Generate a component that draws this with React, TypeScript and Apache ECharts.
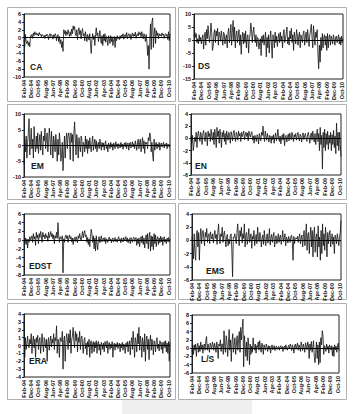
import React, { useEffect, useRef } from "react";
import * as echarts from "echarts";

const MONTHS = ["Jan", "Feb", "Mar", "Apr", "May", "Jun", "Jul", "Aug", "Sep", "Oct", "Nov", "Dec"];
const N_POINTS = 203; // Feb-94 .. Dec-10
const categories: string[] = Array.from({ length: N_POINTS }, (_, i) => {
  const k = i + 1;
  const y = (94 + Math.floor(k / 12)) % 100;
  return `${MONTHS[k % 12]}-${String(y).padStart(2, "0")}`;
});

const CA = [
  -0.5, -2.2, 0.8, -1.0, -1.5, -0.8, -2.0, -1.2, -2.3, 0.5,
  0.3, 0.8, -0.2, 1.2, 0.5, 1.5, 0.8, 1.2, 0.6, 1.0,
  0.4, 1.3, 0.7, 0.9, 0.2, 0.8, 0.5, 0.3, 0.6, -0.2,
  0.7, 0.4, 0.9, 0.5, -0.5, 0.6, 1.0, 0.3, 0.8, 0.5,
  -0.4, 0.7, 0.2, 1.0, 0.6, -0.8, 0.4, 0.8, -1.0, 0.3,
  -1.5, -0.5, -2.5, -1.0, -3.5, 2.0, 1.0, 1.8, 0.5, 1.5,
  0.8, 2.0, 1.0, 0.3, 1.5, 0.5, 2.2, 1.0, 3.0, 2.0,
  2.8, 1.0, 0.5, 2.0, -0.5, 1.5, 2.5, 0.8, 1.8, -0.3,
  1.5, 2.3, 0.5, 1.0, -0.8, 1.5, 0.3, -1.0, 0.8, 0.2,
  -0.6, 1.0, -1.5, -4.0, -0.5, 1.0, -0.5, 0.5, -2.0, 0.8,
  2.5, 0.5, 1.2, -1.0, 0.3, 1.8, -0.5, -1.5, 0.5, -2.0,
  0.8, -0.8, 1.0, -1.2, 0.3, -0.5, -2.0, 0.5, -0.3, -1.5,
  0.5, -1.0, 0.2, -2.0, -0.5, 0.3, -2.5, 0.0, -0.8, 0.5,
  -0.3, 0.2, -0.5, 0.5, -0.2, 0.6, 0.3, 1.0, -0.4, 0.5,
  0.8, 0.2, 1.3, -0.3, 0.6, 1.0, 0.3, 0.8, -0.5, 0.6,
  1.2, 0.3, 0.9, 0.4, 1.4, -0.2, 0.7, 1.0, 0.4, 1.5,
  0.8, 1.2, 0.2, 1.5, 0.5, -0.3, 1.0, 0.3, -1.0, 0.8,
  -1.0, -4.5, -2.0, -8.0, -1.0, 3.5, -3.0, 4.0, 5.0, -2.5,
  1.0, 2.5, -1.5, 1.8, 0.5, 1.2, -0.3, 1.0, 0.5, 0.8,
  0.3, 1.2, 0.6, 0.9, -0.2, 0.7, 1.0, 0.4, 0.8, -0.5,
  1.5, -0.8, 1.0,
];

const DS = [
  1.5, 3.0, 1.0, 2.5, -1.0, 0.5, -1.5, 2.0, -0.5, 1.0,
  -1.5, 0.5, 2.0, -3.5, 1.0, 3.0, -2.0, 4.0, 0.5, 5.5,
  2.0, -1.0, 2.0, 6.5, 3.0, -4.0, -2.5, 2.5, 4.0, -1.0,
  3.5, 1.5, 4.5, -2.0, 3.0, 2.0, -0.5, 3.5, 1.0, -2.0,
  3.0, 2.5, -1.5, 1.0, 2.0, -3.0, 2.5, 4.5, -1.0, 1.5,
  6.0, -2.0, 3.0, 7.5, -0.5, 5.0, -3.0, 2.0, 3.5, -1.0,
  1.5, 4.0, -2.0, 2.0, -5.5, 1.0, 3.0, -1.5, 2.5, -1.0,
  3.5, -3.0, 1.0, 2.0, -5.0, 0.5, 2.0, 6.5, 4.0, -1.0,
  3.0, 5.0, 1.0, -1.0, 2.0, -2.5, 1.0, 0.5, -3.5, -1.0,
  0.5, -6.0, 1.5, -1.0, 2.0, -2.0, 0.5, 3.0, -6.5, 1.0,
  -3.0, 2.0, -5.0, 0.5, 3.5, -1.5, -7.0, 2.0, 1.0, -3.0,
  3.0, -1.0, 1.5, -2.5, 0.5, 2.5, -1.0, 3.0, -0.5, 1.5,
  -3.0, 2.0, 4.0, -1.0, 0.5, 2.5, 5.0, -1.5, 1.0, -2.0,
  3.5, 0.5, 4.5, -1.0, 2.0, -4.0, 3.0, 1.0, -1.5, 4.0,
  2.0, -2.0, 1.5, 3.0, -3.0, 2.0, 0.5, -1.0, 2.5, 3.5,
  -2.0, 1.0, 3.0, -1.0, 4.0, 1.0, -2.5, 2.0, 3.5, 6.0,
  1.0, -3.0, 5.5, 2.0, -2.0, 3.0, 1.0, 4.0, -5.0, -11.0,
  -2.0, -8.5, 1.0, -4.0, 2.5, -3.0, 1.0, 2.0, -2.0, 1.5,
  -4.0, 2.5, -3.0, 1.0, 2.0, -2.0, 1.5, 0.5, -1.5, 2.0,
  0.5, -2.0, 1.0, 1.5, -1.0, 0.5, 2.0, -1.5, 1.0, -2.0,
  1.5, -1.0, 0.5,
];

const EM = [
  -6.0, 2.0, -2.0, 3.0, -4.0, 1.0, 4.0, 8.5, -3.0, 1.0,
  5.5, -1.0, 2.0, -4.0, 6.0, 0.5, -2.0, 3.0, -1.0, 4.0,
  -2.5, 1.0, 3.5, -1.5, 4.5, 0.0, -3.0, 3.0, 1.5, 5.5,
  -1.0, 2.0, 4.0, -2.0, 1.0, 5.5, 2.0, -3.0, 4.5, 1.0,
  -4.0, 3.0, 1.0, -2.0, 3.5, 0.5, -5.0, 2.0, -3.0, 4.0,
  1.0, -5.0, -3.0, 1.0, -8.0, -2.0, 3.0, -4.0, 1.5, 4.0,
  -1.0, 3.0, 4.0, 2.0, -4.5, 4.0, 1.0, 3.5, -5.0, 4.0,
  7.5, 2.0, -3.0, 3.5, 1.0, -4.0, 2.5, 0.5, -2.0, 3.0,
  2.0, -3.5, 1.0, 0.5, -2.0, 3.0, -1.0, 2.0, -2.5, 1.5,
  -1.0, 2.5, 0.0, -2.0, 1.0, 3.0, -1.5, 0.5, 2.0, -1.0,
  1.5, -2.0, 0.5, 1.0, -1.0, 2.0, 0.5, -1.5, 1.0, -0.5,
  0.8, -1.5, 0.5, 1.5, -1.0, 0.3, -2.0, 0.8, 0.2, -1.0,
  1.0, -0.5, 0.5, -1.5, 0.8, 0.2, -1.0, 1.2, -0.3, 0.5,
  -1.0, 0.6, 0.2, -0.8, 1.0, -0.4, 0.5, -1.2, 0.3, 0.8,
  -0.5, 1.0, -1.0, 0.4, 0.8, -1.5, 0.5, 1.0, -0.8, 0.3,
  1.2, -0.5, 0.6, -1.0, 1.5, 0.2, -1.5, 0.8, 2.0, -1.0,
  1.0, 2.0, -2.0, 0.5, 2.5, -1.0, 1.5, -2.5, 1.0, 0.5,
  1.0, -1.0, 2.5, 1.5, 4.0, 3.0, -2.0, 1.0, -3.0, -5.0,
  2.0, -1.5, 0.5, 1.0, -1.0, 0.5, -0.5, 1.0, -1.5, 0.3,
  0.8, -0.5, 0.3, 1.0, -0.8, 0.5, -0.2, 0.8, -1.0, 0.5,
  0.3, -0.6, 0.4,
];

const EN = [
  0.3, -0.8, 0.5, -2.0, -1.0, 0.2, -0.5, 1.0, -1.5, 0.5,
  1.2, 0.3, -0.5, 1.0, 0.5, -1.0, 0.8, 1.3, 0.2, -0.5,
  1.0, 0.5, -1.2, 1.2, 0.3, 0.8, -0.5, 1.5, 0.4, -0.3,
  1.0, -1.0, 1.5, 0.5, -1.5, 1.8, 0.3, 1.2, -0.8, 1.5,
  0.5, -1.5, 1.0, 0.2, 1.3, -0.5, 0.8, -1.0, 1.2, 0.4,
  -0.3, 1.0, 0.3, -0.8, 1.1, 0.5, -0.4, 0.9, 1.3, 0.2,
  -0.5, 1.0, 0.6, -0.3, 1.2, 0.4, 0.8, -0.5, 1.0, 0.3,
  0.7, 1.2, -0.2, 0.5, 1.0, 0.3, 0.9, -0.4, 1.2, 0.6,
  0.2, 0.9, 1.1, -0.3, 0.4, -0.8, 0.5, 0.1, -0.5, 0.6,
  0.3, -0.9, 0.8, 0.2, -0.4, 1.0, 0.5, 2.0, 0.3, -0.5,
  1.2, 0.4, -0.3, 0.8, 0.1, -0.6, 0.5, 0.2, -0.8, 0.4,
  -0.2, 0.6, -0.8, 0.3, 0.9, -0.4, 0.2, 1.5, 0.1, -0.5,
  0.4, -0.9, 0.2, 0.6, -0.3, 0.8, -1.2, 0.3, 0.5, -0.6,
  0.2, 0.7, -0.4, 0.9, 0.3, -0.2, 1.0, 0.4, -0.5, 0.6,
  0.2, 0.8, -0.3, 0.5, 1.0, 0.1, -0.4, 0.7, 0.3, -0.6,
  0.5, 0.9, -0.2, 0.4, 0.8, 0.1, -0.5, 0.6, 1.0, 0.2,
  -0.8, 0.5, 0.9, -0.3, 1.2, 0.2, -0.6, 0.8, -1.0, 0.4,
  1.5, -0.5, 0.8, -2.0, 1.8, -1.0, 0.5, -5.0, 1.0, -1.5,
  1.5, -2.0, 0.8, -1.0, 1.2, -1.8, 0.5, -0.8, 1.0, -2.0,
  0.6, -1.0, 1.3, -1.5, 0.4, -2.5, 2.5, -1.2, 1.0, -2.0,
  1.0, -1.0, -3.0,
];

const EDST = [
  -0.3, -0.8, 0.5, -1.0, 0.3, -1.8, 0.2, -0.5, 0.8, -0.2,
  0.5, 1.0, -0.5, 1.5, 0.3, 0.8, -1.2, 1.8, 0.5, 1.2,
  -0.8, 1.5, 0.6, 2.0, 1.0, -0.5, 1.8, 0.8, 1.2, 0.3,
  1.5, 0.6, 1.0, -0.3, 1.8, 0.5, 1.2, 2.0, 0.8, 1.5,
  0.3, 1.2, -0.8, 1.0, 0.5, 1.8, 0.4, 4.0, 1.0, -0.5,
  0.8, 0.5, 0.2, 1.0, -7.5, 0.3, -0.5, 0.8, 1.2, 0.4,
  1.0, -0.5, 0.6, 1.2, 0.3, 0.8, -0.4, 0.5, -1.0, 0.3,
  0.6, -0.3, 0.8, 0.2, -0.6, 1.0, 0.4, 1.5, 0.5, -0.2,
  1.0, 2.0, 0.5, 1.5, 2.2, 0.8, 1.2, -0.5, 0.6, -1.0,
  0.3, -1.5, 0.8, 2.5, 1.5, -0.5, 1.0, -2.0, 0.5, -2.5,
  1.0, -1.0, -2.2, 0.5, 0.8, -0.6, 0.3, 1.0, -0.4, 0.2,
  0.5, -0.3, 0.6, -0.8, 0.3, 0.2, -0.5, 0.4, 0.7, -0.2,
  0.3, -0.6, 0.2, 0.5, -0.4, 0.1, 0.6, -0.3, 0.2, -0.5,
  0.4, 0.8, -0.2, 0.3, -0.6, 0.5, 0.1, -0.4, 0.6, -0.2,
  0.3, 0.8, -0.3, 0.5, -0.6, 0.2, 0.4, -0.8, 0.6, 0.1,
  -0.5, 0.4, 0.7, -0.3, 0.2, 0.6, -1.2, 0.3, -0.8, 0.5,
  -1.5, 0.4, 0.8, -0.6, 1.0, -1.0, 0.5, -1.8, 0.3, 1.2,
  -0.8, 1.5, -2.0, 0.6, 1.8, -2.5, 1.0, -1.5, 0.8, -2.2,
  1.5, -0.8, 1.2, -1.5, 0.3, 0.8, -1.0, 0.5, -0.6, 0.9,
  -0.4, 0.6, -1.2, 0.3, 0.8, -0.5, 0.2, -0.8, 0.5, -0.3,
  0.6, -0.5, 0.3,
];

const EMS = [
  0.5, -1.0, -2.8, 1.0, -2.0, -3.0, 0.8, 1.5, -1.0, 1.2,
  -3.0, 0.5, 1.8, -0.5, 1.0, 1.5, 0.3, -0.8, 1.2, 0.5,
  1.8, -0.3, 0.8, 1.0, -0.5, 1.3, 0.6, 0.2, 1.0, -0.4,
  0.7, 1.5, 0.3, 0.9, -0.6, 1.2, 2.5, 0.4, -0.5, 1.0,
  0.6, 2.0, -0.3, 0.8, 1.4, 0.2, -1.0, 0.5, 0.9, -0.8,
  0.2, -0.5, 0.8, 1.0, -1.5, -5.5, 0.5, 0.4, 1.0, 0.2,
  -0.5, 1.2, 2.5, 0.3, -0.8, 1.5, 0.6, 2.0, -0.4, 1.0,
  0.3, 2.5, -1.0, 0.8, 1.2, -0.6, 0.4, 1.8, -0.3, 0.5,
  1.0, -1.2, 0.6, 0.2, 1.5, -0.8, 0.3, 0.9, -0.5, 2.0,
  0.4, -0.2, 1.2, 0.6, -1.0, 0.3, 0.8, -0.6, 1.5, 0.2,
  -0.8, 0.5, 1.0, -0.4, 0.3, 1.8, -0.7, 0.4, 0.9, -0.3,
  0.6, 1.2, -1.0, 0.3, 0.7, -0.5, 0.2, 1.0, -0.3, 0.5,
  0.8, -0.6, 0.3, 1.5, -0.2, 0.4, 1.0, -0.8, 0.5, 0.2,
  -0.4, 0.6, 0.2, -0.3, 0.5, 0.8, -0.2, -3.0, 0.6, -0.5,
  0.3, 0.4, 0.2, 0.6, -0.3, 0.5, 1.0, -0.5, 0.3, 0.8,
  -1.0, 0.6, 1.5, -0.8, 0.3, 2.5, -1.5, 0.8, 1.2, -2.0,
  0.5, 2.0, -1.0, 1.5, -2.5, 0.8, 2.0, -1.8, 0.5, 1.0,
  -2.5, 2.2, -1.0, 0.5, -3.0, 1.5, -2.0, 2.5, -0.8, 1.0,
  -1.5, 2.0, 0.3, -2.5, 1.2, -0.5, 0.8, 1.5, -1.0, 0.4,
  1.0, -0.6, 0.5, -2.0, 0.8, 0.3, -0.5, 1.0, 0.2, -0.8,
  0.5, 1.2, 3.0,
];

const ERA = [
  3.0, -1.5, 1.0, -0.5, 0.3, 1.2, 0.0, -0.3, 0.8, 0.2,
  1.5, -1.0, 0.5, 1.2, -0.3, 0.8, -1.5, 1.0, 0.4, 1.3,
  -0.5, 0.6, 1.0, -1.0, 0.3, 1.5, 0.2, -0.8, 1.0, 0.5,
  -0.3, 0.8, -2.0, 0.4, 1.0, -0.6, 0.5, 1.2, -0.2, 0.8,
  0.3, 1.5, -0.5, 1.0, 0.6, 2.5, -1.0, 0.8, 0.3, -1.5,
  1.0, 0.6, 0.5, 1.8, -3.0, 0.6, 1.2, -2.0, 0.4, 1.5,
  0.8, -0.5, 1.5, 0.3, 2.0, -1.0, 0.7, 1.2, 2.3, 0.5,
  -0.3, 1.8, 0.6, 1.5, -0.8, 1.0, 0.4, 1.8, -0.5, 0.8,
  1.2, 0.2, -1.0, 0.6, 1.0, -0.4, 0.3, -1.2, 0.5, -0.2,
  0.8, -1.5, 0.3, 0.6, -1.0, 0.2, 0.5, -0.8, 0.4, -0.3,
  0.6, -1.0, 0.3, 0.5, -0.6, 0.2, -1.2, 0.4, 0.1, -0.5,
  0.3, -0.8, 0.5, 0.2, -0.3, 0.6, -1.0, 0.1, 0.4, -0.5,
  0.2, -0.3, 0.5, -1.5, 0.1, 0.3, -0.6, 0.2, -0.2, 0.4,
  -0.4, 0.1, 0.3, -0.8, 0.2, -0.3, 0.4, -0.6, 0.2, 0.0,
  -1.0, 0.3, -0.2, 0.5, -0.8, 0.2, 0.6, -1.2, 0.4, 1.0,
  -0.5, 1.8, 0.3, -1.5, 1.0, 0.4, -0.8, 1.5, 0.2, 2.3,
  -0.6, 1.2, 0.5, -1.5, 1.0, 0.3, -0.8, 1.5, -2.0, 0.6,
  1.2, -0.5, 0.8, -1.8, 0.4, 1.3, -0.6, 0.8, 0.2, -1.2,
  0.6, 0.3, -0.8, 0.5, 1.0, -0.4, 0.2, -0.7, 0.6, 0.3,
  -0.5, 0.4, -1.0, 0.2, 0.5, -0.3, 0.6, -0.8, 0.3, -1.0,
  0.5, -2.0, 0.4,
];

const LS = [
  -1.0, 0.5, -1.5, 0.8, -0.5, 1.0, -2.0, 0.3, 1.2, -1.0,
  0.6, -0.8, 1.5, -0.3, 0.8, -1.2, 0.5, 1.0, -0.5, 1.8,
  2.8, -0.5, 1.0, 0.3, -1.0, 1.2, 0.6, -0.3, 1.5, 0.8,
  -0.5, 1.2, 0.4, -1.0, 1.5, 0.3, -2.5, 1.0, 0.5, 2.0,
  -0.8, 1.0, 1.0, -1.5, 4.2, 0.3, -1.0, 3.0, 1.5, -2.0,
  1.0, 4.5, -0.5, 2.0, -3.2, 1.5, 3.5, -1.0, 0.8, 2.5,
  -1.5, 1.0, 3.0, -0.5, 2.0, 4.0, -1.0, 5.0, 2.0, 4.5,
  7.0, -4.5, 3.0, 0.5, -2.0, 1.5, -3.0, 2.5, 0.5, -4.0,
  1.0, -1.5, 0.5, -1.0, 2.5, 0.3, -0.5, 1.0, -1.2, 0.6,
  0.2, 1.5, -0.5, 1.8, 0.3, -1.0, 1.2, 0.5, -1.5, 0.8,
  0.2, -0.5, 1.0, 0.3, -0.8, 0.6, -0.3, 0.5, -1.2, 0.2,
  0.8, -0.4, 0.3, 0.6, -0.6, 0.2, 0.5, -0.3, 0.1, 0.4,
  -0.5, 0.3, 0.6, -0.2, 0.4, -0.8, 0.2, 0.5, -0.3, 0.8,
  0.1, -0.5, 0.3, 0.7, -0.2, 1.0, 0.4, -0.6, 0.8, 0.2,
  -1.2, 0.5, 1.0, -0.3, 0.6, 1.2, -0.5, 0.8, 0.3, -0.8,
  1.5, 0.4, -0.6, 1.0, 0.2, -1.0, 1.3, 0.5, -0.4, 1.5,
  0.8, -2.5, 1.0, -0.5, 1.6, -1.0, 0.3, 1.8, -2.0, -3.5,
  -1.0, 1.5, -2.5, 0.8, -4.0, 1.5, -3.5, 2.5, 0.8, 4.2,
  3.0, -1.5, 0.6, 0.2, -0.8, 1.0, -0.3, 0.5, -1.2, 0.8,
  0.2, -0.5, 0.6, -1.8, 0.3, -2.0, 0.8, -0.4, 0.5, -1.0,
  0.7, 1.2, -0.6,
];

const PANEL_NAMES = ["CA", "DS", "EM", "EN", "EDST", "EMS", "ERA", "L/S"];
const PANEL_DATA = [CA, DS, EM, EN, EDST, EMS, ERA, LS];
const Y_MIN = [-10, -15, -10, -6, -8, -6, -4, -6];
const Y_MAX = [6, 10, 10, 4, 6, 4, 4, 8];
const Y_STEP = [2, 5, 5, 2, 2, 2, 1, 2];

// layout (pixels)
const GRIDS = [
  { left: 24, top: 14, width: 146, height: 63 },
  { left: 194, top: 14, width: 149, height: 65 },
  { left: 24, top: 114, width: 146, height: 63 },
  { left: 191, top: 114, width: 150, height: 61 },
  { left: 24, top: 214, width: 146, height: 61 },
  { left: 192, top: 214, width: 149, height: 66 },
  { left: 24, top: 314, width: 146, height: 63 },
  { left: 192, top: 315, width: 147, height: 58 },
];
const LABEL_POS = [
  [30, 62], [198, 61], [31, 161], [195, 161], [29, 261], [206, 266], [29, 356], [201, 354],
];
const PANEL_BOX = [
  { x: 7, y: 7, w: 168, h: 94 }, { x: 178, y: 7, w: 168, h: 94 },
  { x: 7, y: 104, w: 168, h: 95 }, { x: 178, y: 104, w: 168, h: 95 },
  { x: 7, y: 203, w: 168, h: 96 }, { x: 178, y: 203, w: 168, h: 96 },
  { x: 7, y: 303, w: 168, h: 96 }, { x: 178, y: 303, w: 168, h: 96 },
];

const FONT = "'Liberation Sans', Arial, sans-serif";

export default function App() {
  const ref = useRef<HTMLDivElement>(null);
  useEffect(() => {
    document.body.style.margin = "0";
    if (!ref.current) return;
    const chart = echarts.init(ref.current, null, { renderer: "svg" });
    const grid = GRIDS.map((g) => ({
      ...g,
      show: true,
      borderColor: "#222",
      borderWidth: 1,
      backgroundColor: "#fff",
      containLabel: false,
    }));
    const xAxis = PANEL_NAMES.map((_, i) => ({
      type: "category",
      gridIndex: i,
      data: categories,
      boundaryGap: false,
      axisLine: { show: false, onZero: false },
      axisTick: { show: false },
      axisLabel: {
        interval: 9,
        rotate: 90,
        fontSize: 5.5,
        fontWeight: "bold",
        color: "#111",
        margin: 3,
        fontFamily: FONT,
      },
      splitLine: { show: false },
    }));
    const yAxis = PANEL_NAMES.map((_, i) => ({
      type: "value",
      gridIndex: i,
      min: Y_MIN[i],
      max: Y_MAX[i],
      interval: Y_STEP[i],
      axisLine: { show: true, lineStyle: { color: "#222", width: 1 } },
      axisTick: { show: true, length: 2, lineStyle: { color: "#222" } },
      axisLabel: { fontSize: 5.5, fontWeight: "bold", color: "#111", margin: 3, fontFamily: FONT },
      splitLine: { show: false },
    }));
    const series = PANEL_NAMES.map((name, i) => ({
      type: "line",
      name,
      xAxisIndex: i,
      yAxisIndex: i,
      data: PANEL_DATA[i],
      showSymbol: false,
      symbol: "none",
      lineStyle: { color: "#111", width: 0.8 },
      markLine: {
        silent: true,
        symbol: "none",
        label: { show: false },
        lineStyle: { color: "#000", type: "solid", width: 1 },
        data: [{ yAxis: 0 }],
      },
    }));
    const graphic: any[] = [];
    // faint gray smudge at the bottom of the scan
    graphic.push({
      type: "rect",
      shape: { x: 122, y: 400, width: 130, height: 14 },
      style: { fill: "#efefef" },
      silent: true,
      z: -2,
    });
    PANEL_BOX.forEach((b) => {
      graphic.push({
        type: "rect",
        shape: { x: b.x + 0.5, y: b.y + 0.5, width: b.w, height: b.h },
        style: { fill: "none", stroke: "#b0b0b0", lineWidth: 1 },
        silent: true,
        z: -1,
      });
    });
    PANEL_NAMES.forEach((name, i) => {
      graphic.push({
        type: "text",
        x: LABEL_POS[i][0],
        y: LABEL_POS[i][1],
        style: { text: name, fontSize: 8.5, fontWeight: "bold", fill: "#1a1a1a", fontFamily: FONT },
        z: 10,
      });
    });
    chart.setOption({
      animation: false,
      backgroundColor: "#fff",
      grid,
      xAxis,
      yAxis,
      series,
      graphic,
    });
    return () => chart.dispose();
  }, []);
  return <div ref={ref} style={{ width: 356, height: 414 }} />;
}
